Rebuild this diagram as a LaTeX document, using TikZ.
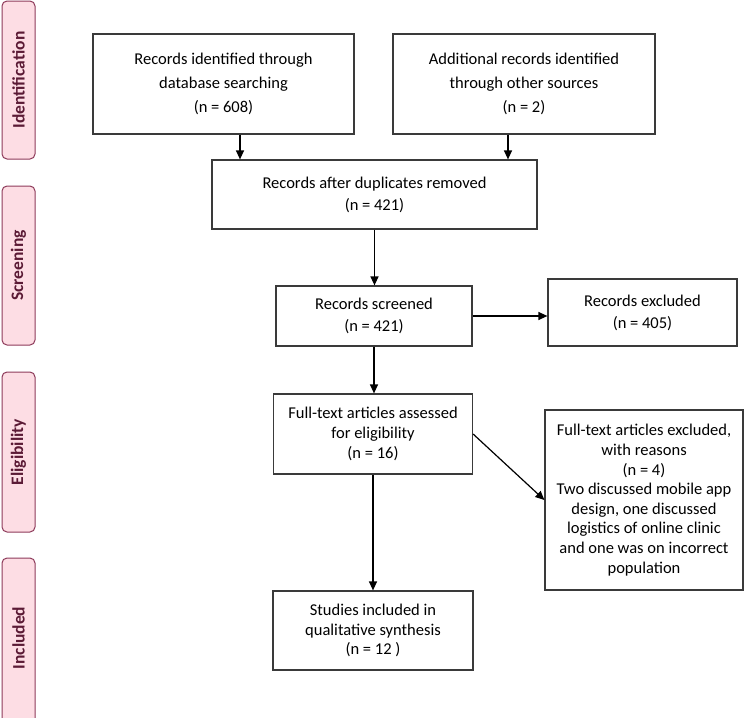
\documentclass[tikz,border=0pt]{standalone}
\usepackage{fontspec}
\setmainfont{Carlito}
\usetikzlibrary{arrows.meta}
\definecolor{barfill}{HTML}{FDDDE4}
\definecolor{barline}{HTML}{8E3B5B}
\definecolor{bartext}{HTML}{5B1A35}
\definecolor{boxline}{HTML}{3A3A3A}
\tikzset{
  box/.style={draw=boxline, line width=1.2pt, fill=white, align=center, inner sep=2pt,
    font=\fontsize{16.5}{19.6}\selectfont, text=black},
  bar/.style={draw=barline, line width=1pt, fill=barfill, rounded corners=5pt},
  bartxt/.style={rotate=90, font=\fontsize{17.5}{19}\selectfont\bfseries, text=bartext},
  arr/.style={-{Triangle[length=9pt,width=8pt]}, line width=1.2pt, draw=black}
}
\begin{document}
\begin{tikzpicture}[x=1pt,y=-1pt]
\useasboundingbox[fill=white] (0,0) rectangle (745,718);
% phase bars
\draw[bar] (2,1) rectangle (35,159);
\node[bartxt] (lid) at (18.5,80) {Identification};
\draw[bar] (2,186) rectangle (35,345);
\node[bartxt] (lsc) at (18.5,265.5) {Screening};
\draw[bar] (2,372) rectangle (35,532);
\node[bartxt] (lel) at (18.5,452) {Eligibility};
\draw[bar] (2,558) rectangle (35,740);
\node[bartxt] (lin) at (18.5,638) {Included};
% boxes
\node[box, minimum width=261pt, minimum height=100pt, font=\fontsize{16.5}{24}\selectfont] (b1) at (223.5,84)
  {Records identified through\\database searching\\(n = 608)};
\node[box, minimum width=262pt, minimum height=100pt, font=\fontsize{16.5}{24}\selectfont] (b2) at (524,84)
  {Additional records identified\\through other sources\\(n = 2)};
\node[box, minimum width=325pt, minimum height=69pt, font=\fontsize{16.5}{22}\selectfont] (b3) at (374.5,194.5)
  {Records after duplicates removed\\(n = 421)};
\node[box, minimum width=196pt, minimum height=60pt, font=\fontsize{16.5}{22}\selectfont] (b4) at (374,316)
  {Records screened\\(n = 421)};
\node[box, minimum width=189pt, minimum height=67pt, font=\fontsize{16.5}{22}\selectfont] (b5) at (642.5,312.5)
  {Records excluded\\(n = 405)};
\node[box, minimum width=199pt, minimum height=80pt] (b6) at (373,434)
  {Full-text articles assessed\\for eligibility\\(n = 16)};
\node[box, minimum width=198pt, minimum height=180pt] (b7) at (644,500)
  {Full-text articles excluded,\\with reasons\\(n = 4)\\Two discussed mobile app\\design, one discussed\\logistics of online clinic\\and one was on incorrect\\population};
\node[box, minimum width=200pt, minimum height=79pt] (b8) at (373,630.5)
  {Studies included in\\qualitative synthesis\\(n = 12 )};
% arrows
\draw[arr] ([xshift=16.5pt]b1.south) -- ([xshift=16.5pt]b1.south |- b3.north);
\draw[arr] ([xshift=-16pt]b2.south) -- ([xshift=-16pt]b2.south |- b3.north);
\draw[arr] (b3.south) -- (b3.south |- b4.north);
\draw[arr] (b4.east) -- (b4.east -| b5.west);
\draw[arr] (b4.south) -- (b4.south |- b6.north);
\draw[arr] (b6.east) -- (b7.west);
\draw[arr] (b6.south) -- (b6.south |- b8.north);
\end{tikzpicture}
\end{document}
